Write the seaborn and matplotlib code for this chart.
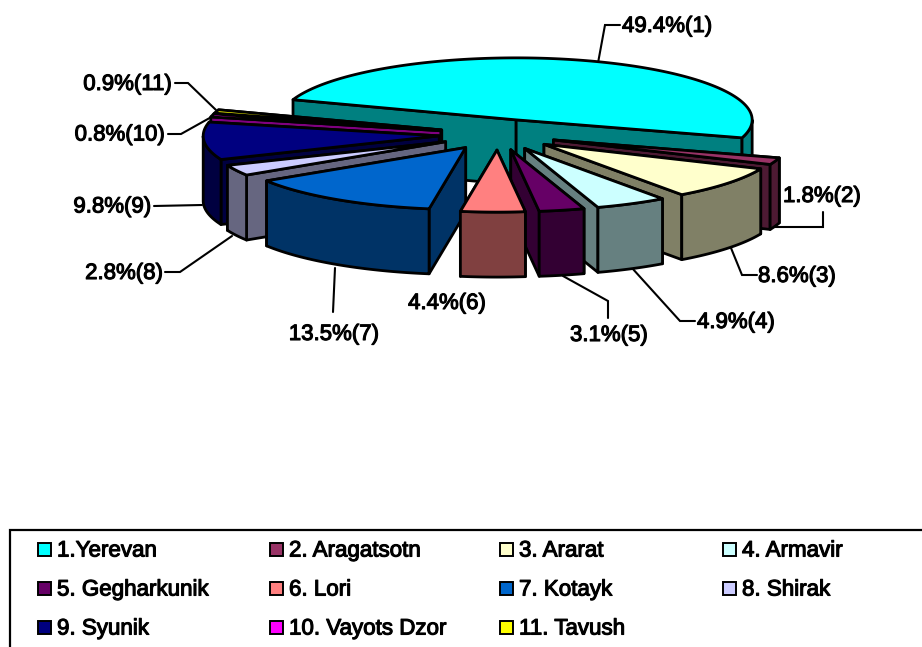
import numpy as np
import matplotlib
matplotlib.use("Agg")
import matplotlib.pyplot as plt
import matplotlib.patheffects as pe
from matplotlib.patches import Polygon, Rectangle
import seaborn as sns

regions = ["1.Yerevan", "2. Aragatsotn", "3. Ararat", "4. Armavir",
           "5. Gegharkunik", "6. Lori", "7. Kotayk", "8. Shirak",
           "9. Syunik", "10. Vayots Dzor", "11. Tavush"]
shares = [49.4, 1.8, 8.6, 4.9, 3.1, 4.4, 13.5, 2.8, 9.8, 0.8, 0.9]
top_colors = ["#00FFFF", "#993366", "#FFFFCC", "#CCFFFF", "#660066", "#FF8080",
              "#0066CC", "#CCCCFF", "#000080", "#FF00FF", "#FFFF00"]
labels = [f"{v}%({i + 1})" for i, v in enumerate(shares)]

sns.set_theme(style="white")
plt.rcParams["font.family"] = ["Liberation Sans", "DejaVu Sans"]
palette = sns.color_palette(top_colors)

fig = plt.figure(figsize=(9.22, 6.47), dpi=100)
ax = fig.add_axes([0, 0, 1, 1])
ax.set_xlim(0, 922)
ax.set_ylim(647, 0)
ax.axis("off")

# pie geometry (pixels)
CX, CY = 498.0, 134.6
RX, RY = 236.0, 62.0
EXPLODE = 0.25
DEPTH = 65.0
START = -71.0
LW = 2.0

z = [10]


def add_poly(pts, color):
    z[0] += 1
    ax.add_patch(Polygon(pts, closed=True, facecolor=color, edgecolor="black",
                         linewidth=LW, joinstyle="round", zorder=z[0]))


spans = []
a = START
for v in shares:
    b = a + v * 3.6
    spans.append((a, b))
    a = b


def slice_geom(i):
    t0, t1 = np.radians(spans[i])
    tm = (t0 + t1) / 2
    ax0 = CX + EXPLODE * RX * np.sin(tm)
    ay0 = CY - EXPLODE * RY * np.cos(tm)
    return t0, t1, tm, ax0, ay0


def draw_slice(i):
    t0, t1, tm, x0, y0 = slice_geom(i)
    col = np.array(palette[i])
    dark = tuple(col * 0.5)
    ts = np.linspace(t0, t1, 160)
    xs = x0 + RX * np.sin(ts)
    ys = y0 - RY * np.cos(ts)
    # cut faces, back one first
    faces = []
    for x1, y1 in ((xs[0], ys[0]), (xs[-1], ys[-1])):
        faces.append(((y1 + y0) / 2, [(x0, y0), (x1, y1), (x1, y1 + DEPTH), (x0, y0 + DEPTH)]))
    faces.sort(key=lambda f: f[0])
    for _, pts in faces:
        add_poly(pts, dark)
    # outer wall: front half only
    vis = np.cos(ts) <= 0
    if vis.any():
        xv, yv = xs[vis], ys[vis]
        wall = list(zip(xv, yv)) + list(zip(xv[::-1], yv[::-1] + DEPTH))
        add_poly(wall, dark)
    add_poly([(x0, y0)] + list(zip(xs, ys)), tuple(col))


# painter's order: farthest slices first
order = sorted(range(len(shares)), key=lambda i: slice_geom(i)[4])
for i in order:
    draw_slice(i)

# data labels and leader lines
stroke = [pe.withStroke(linewidth=0.8, foreground="black")]
label_layout = [
    (622, 26.5, "left", [(598, 63), (605, 25), (620, 25)]),
    (822, 196.5, "center", [(773, 227), (823, 227), (823, 212)]),
    (758, 276.5, "left", [(731, 248), (742, 275), (757, 275)]),
    (697, 322.5, "left", [(632, 268), (680, 321), (695, 321)]),
    (609, 335.5, "center", [(563, 276), (608, 301), (608, 318)]),
    (447, 303.5, "center", None),
    (334, 334.5, "center", [(335, 268), (333, 312)]),
    (163, 273.5, "right", [(232, 236), (180, 272), (165, 272)]),
    (151, 207, "right", [(202, 205), (154, 206)]),
    (165, 135, "right", [(215, 115), (181, 134), (168, 134)]),
    (172, 84.5, "right", [(216, 110), (188, 83), (175, 83)]),
]
for txt, (x, y, ha, line) in zip(labels, label_layout):
    if line:
        lx, ly = zip(*line)
        ax.plot(lx, ly, color="black", lw=1.5, zorder=5, solid_joinstyle="miter")
    ax.text(x, y, txt, ha=ha, va="center", fontsize=16, color="black",
            path_effects=stroke, zorder=60)

# legend box
ax.add_patch(Rectangle((10, 530), 930, 140, facecolor="white", edgecolor="black",
                       linewidth=1.6, zorder=2, clip_on=True))
col_x = [37, 269, 499, 722]
row_y = [551, 590, 629]
for i, name in enumerate(regions):
    cx = col_x[i % 4]
    cy = row_y[i // 4]
    ax.add_patch(Rectangle((cx + 1, cy - 8), 13, 13, facecolor=palette[i],
                           edgecolor="black", linewidth=1.4, zorder=3))
    ax.text(cx + 20, cy, name, ha="left", va="center", fontsize=16.1,
            color="black", path_effects=stroke, zorder=4)

fig.savefig("out.png", dpi=100, facecolor="white")
